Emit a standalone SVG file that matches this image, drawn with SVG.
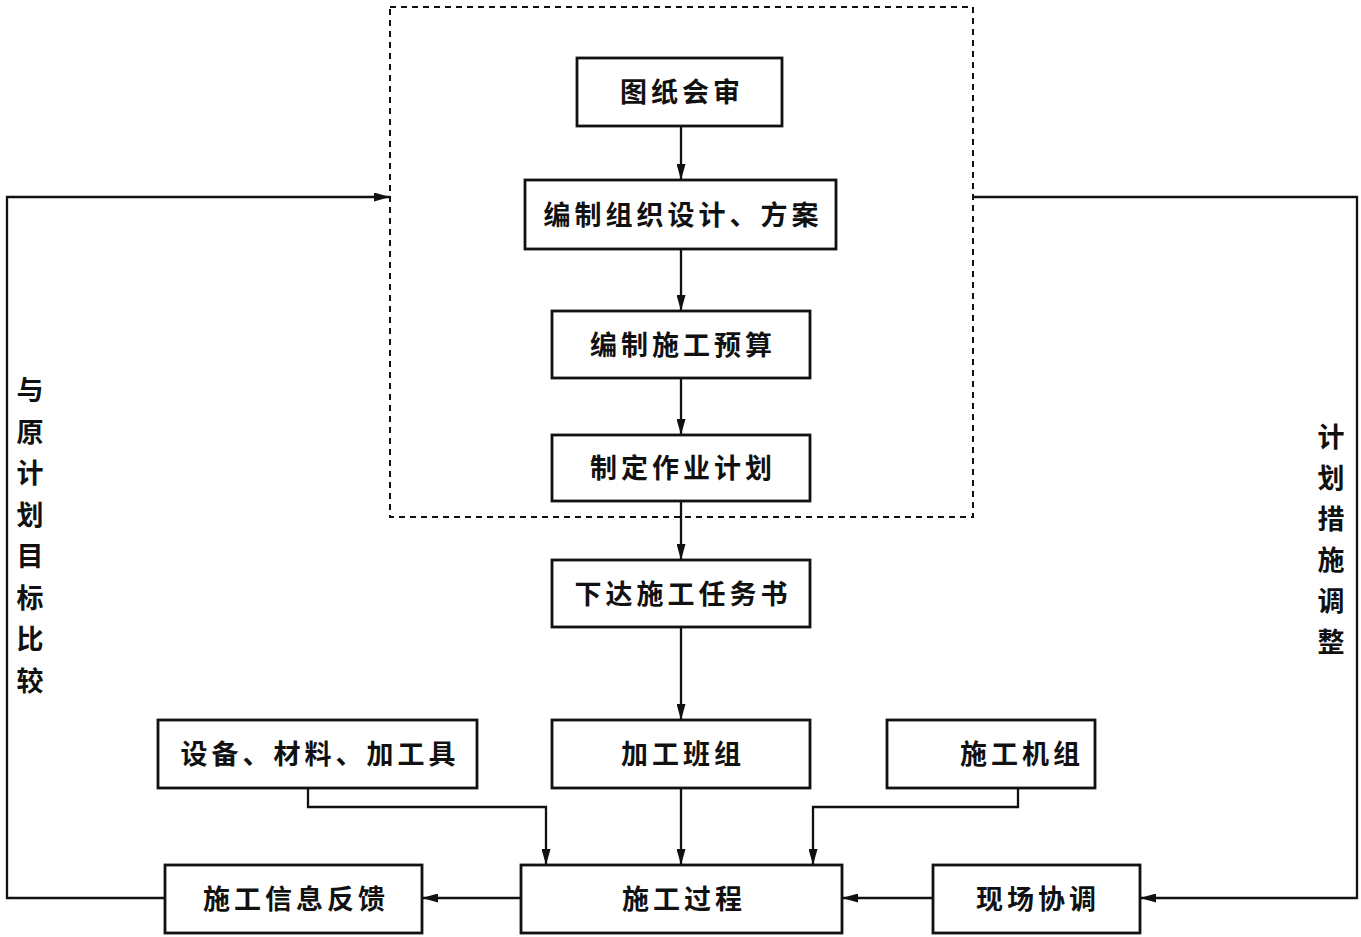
<svg xmlns="http://www.w3.org/2000/svg" width="1361" height="937" viewBox="0 0 1361 937">
<style>
.box{fill:#fff;stroke:#111;stroke-width:2.8}
.t{font-family:"Noto Sans CJK SC","Noto Sans CJK JP",sans-serif;font-size:27px;font-weight:bold;fill:#111;text-anchor:middle;letter-spacing:4px}
.v{font-family:"Noto Sans CJK SC","Noto Sans CJK JP",sans-serif;font-size:27px;font-weight:bold;fill:#111;text-anchor:middle}
.c{fill:none;stroke:#111;stroke-width:2.3}
.dash{fill:none;stroke:#111;stroke-width:2;stroke-dasharray:6 5}
</style>
<defs>
<marker id="ah" viewBox="0 0 16 9" refX="16" refY="4.5" markerWidth="16" markerHeight="9" markerUnits="userSpaceOnUse" orient="auto">
<path d="M0,0 L16,4.5 L0,9 Z" fill="#111"/>
</marker>
</defs>
<rect width="1361" height="937" fill="#fff"/>
<rect id="plan-region" class="dash" x="390" y="7" width="583" height="510"/>
<g id="connectors">
<path class="c" d="M681,126 V180" marker-end="url(#ah)"/>
<path class="c" d="M681,249 V311" marker-end="url(#ah)"/>
<path class="c" d="M681,378 V435" marker-end="url(#ah)"/>
<path class="c" d="M681,501 V560" marker-end="url(#ah)"/>
<path class="c" d="M681,627 V720" marker-end="url(#ah)"/>
<path class="c" d="M681,788 V865" marker-end="url(#ah)"/>
<path class="c" d="M308,788 V807 H546 V865" marker-end="url(#ah)"/>
<path class="c" d="M1018,788 V807 H813 V865" marker-end="url(#ah)"/>
<path class="c" d="M521,898 H422" marker-end="url(#ah)"/>
<path class="c" d="M933,898 H842" marker-end="url(#ah)"/>
<path class="c" d="M165,898 H7 V197 H390" marker-end="url(#ah)"/>
<path class="c" d="M973,197 H1357 V898 H1140" marker-end="url(#ah)"/>
</g>
<g id="n1"><rect class="box" x="577" y="58" width="205" height="68"/><text class="t" x="682" y="102">图纸会审</text></g>
<g id="n2"><rect class="box" x="525" y="180" width="311" height="69"/><text class="t" x="683" y="225">编制组织设计、方案</text></g>
<g id="n3"><rect class="box" x="552" y="311" width="258" height="67"/><text class="t" x="683" y="355">编制施工预算</text></g>
<g id="n4"><rect class="box" x="552" y="435" width="258" height="66"/><text class="t" x="683" y="478">制定作业计划</text></g>
<g id="n5"><rect class="box" x="552" y="560" width="258" height="67"/><text class="t" x="683" y="604">下达施工任务书</text></g>
<g id="n6"><rect class="box" x="552" y="720" width="258" height="68"/><text class="t" x="683" y="764">加工班组</text></g>
<g id="n7"><rect class="box" x="158" y="720" width="319" height="68"/><text class="t" x="320" y="764">设备、材料、加工具</text></g>
<g id="n8"><rect class="box" x="887" y="720" width="208" height="68"/><text class="t" x="1022" y="764">施工机组</text></g>
<g id="n9"><rect class="box" x="521" y="865" width="321" height="68"/><text class="t" x="684" y="909">施工过程</text></g>
<g id="n10"><rect class="box" x="165" y="865" width="257" height="68"/><text class="t" x="296" y="909">施工信息反馈</text></g>
<g id="n11"><rect class="box" x="933" y="865" width="207" height="68"/><text class="t" x="1038" y="909">现场协调</text></g>
<g id="label-left">
<text class="v" x="30" y="400">与</text>
<text class="v" x="30" y="442">原</text>
<text class="v" x="30" y="483">计</text>
<text class="v" x="30" y="525">划</text>
<text class="v" x="30" y="566">目</text>
<text class="v" x="30" y="608">标</text>
<text class="v" x="30" y="649">比</text>
<text class="v" x="30" y="691">较</text>
</g>
<g id="label-right">
<text class="v" x="1331" y="447">计</text>
<text class="v" x="1331" y="488">划</text>
<text class="v" x="1331" y="529">措</text>
<text class="v" x="1331" y="570">施</text>
<text class="v" x="1331" y="611">调</text>
<text class="v" x="1331" y="652">整</text>
</g>
</svg>
